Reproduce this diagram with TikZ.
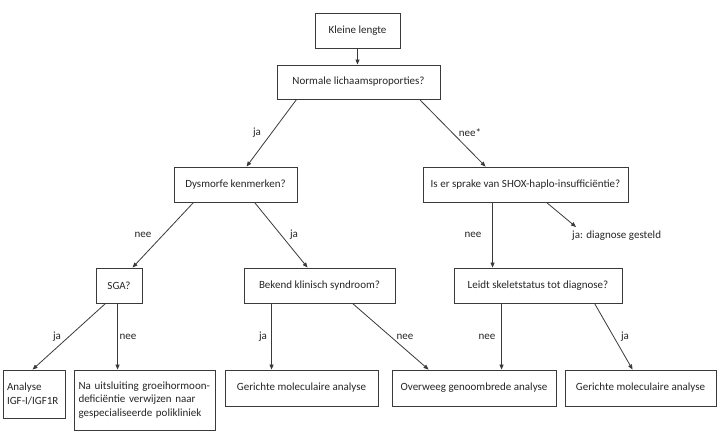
\documentclass[tikz,border=0pt]{standalone}
\usepackage{fontspec}
\setmainfont{Carlito}
\usetikzlibrary{arrows.meta}
\definecolor{ln}{HTML}{3A3A3A}
\definecolor{tx}{HTML}{262626}
\tikzset{
  box/.style={draw=ln, line width=0.9pt, inner sep=0pt, align=center, text=tx,
    font=\fontsize{11}{13.5}\selectfont},
  lbox/.style={draw=ln, line width=0.9pt, inner ysep=0pt, align=left, text=tx,
    font=\fontsize{11}{13.5}\selectfont},
  lbl/.style={inner sep=0pt, text=tx, font=\fontsize{11}{13.5}\selectfont},
  arr/.style={draw=ln, line width=0.8pt, -{Triangle[length=5pt,width=4pt]}},
}
\begin{document}
\begin{tikzpicture}[x=1pt,y=-1pt]
\useasboundingbox[fill=white] (0,0) rectangle (721,442);
% boxes
\node[box, minimum width=85pt, minimum height=35pt] (kl) at (357.5,30.5) {Kleine lengte};
\node[box, minimum width=163pt, minimum height=34pt] (norm) at (358.5,82) {Normale lichaamsproporties?};
\node[box, minimum width=123pt, minimum height=35pt] (dys) at (235.5,184.5) {Dysmorfe kenmerken?};
\node[box, minimum width=205pt, minimum height=35pt] (shox) at (525.5,184.5) {Is er sprake van SHOX-haplo-insufficiëntie?};
\node[box, minimum width=46pt, minimum height=35pt] (sga) at (119,285.5) {SGA?};
\node[box, minimum width=151pt, minimum height=35pt] (bek) at (319.5,285.5) {Bekend klinisch syndroom?};
\node[box, minimum width=168pt, minimum height=35pt] (leidt) at (538,285.5) {Leidt skeletstatus tot diagnose?};
\node[lbox, inner xsep=4pt, text width=54pt, minimum height=48pt] (ana) at (34,394) {\mbox{Analyse}\\\mbox{IGF-I/IGF1R}};
\node[lbox, inner xsep=4.5pt, text width=132pt, minimum height=60pt] (na) at (144.5,400) {\mbox{Na uitsluiting groeihormoon-}\\\mbox{deficiëntie verwijzen naar}\\\mbox{gespecialiseerde polikliniek}};
\node[box, minimum width=153pt, minimum height=36pt] (gerl) at (301.5,388) {Gerichte moleculaire analyse};
\node[box, minimum width=164pt, minimum height=36pt] (ov) at (474,388) {Overweeg genoombrede analyse};
\node[box, minimum width=151pt, minimum height=36pt] (gerr) at (640.5,388) {Gerichte moleculaire analyse};
\coordinate (diag) at (576,227);
% connectors
\draw[arr] (kl.south) -- (kl.south |- norm.north);
\draw[arr] ([xshift=20pt]norm.south west) -- ([xshift=73pt]dys.north west);
\draw[arr] ([xshift=143pt]norm.south west) -- ([xshift=63pt]shox.north west);
\draw[arr] ([xshift=20pt]dys.south west) -- ([xshift=37pt]sga.north west);
\draw[arr] ([xshift=81pt]dys.south west) -- ([xshift=64pt]bek.north west);
\draw[arr] ([xshift=70pt]shox.south west) -- ([xshift=39pt]leidt.north west);
\draw[arr] ([xshift=124pt]shox.south west) -- (diag);
\draw[arr] ([xshift=10pt]sga.south west) -- ([xshift=30pt]ana.north west);
\draw[arr] ([xshift=22pt]sga.south west) -- ([xshift=44pt]na.north west);
\draw[arr] ([xshift=28pt]bek.south west) -- ([xshift=47pt]gerl.north west);
\draw[arr] ([xshift=109pt]bek.south west) -- ([xshift=37pt]ov.north west);
\draw[arr] ([xshift=48pt]leidt.south west) -- ([xshift=110pt]ov.north west);
\draw[arr] ([xshift=141pt]leidt.south west) -- ([xshift=68pt]gerr.north west);
% labels
\node[lbl] (l1) at (257,133) {ja};
\node[lbl] (l2) at (470,133) {nee*};
\node[lbl] (l3) at (143,235) {nee};
\node[lbl] (l4) at (294,235) {ja};
\node[lbl] (l5) at (473,235) {nee};
\node[lbl, anchor=west] (l6) at (572,236) {ja: diagnose gesteld};
\node[lbl] (l7) at (57,337) {ja};
\node[lbl] (l8) at (128,337) {nee};
\node[lbl] (l9) at (263,337) {ja};
\node[lbl] (l10) at (405,337) {nee};
\node[lbl] (l11) at (487,337) {nee};
\node[lbl] (l12) at (625,337) {ja};
\end{tikzpicture}
\end{document}
